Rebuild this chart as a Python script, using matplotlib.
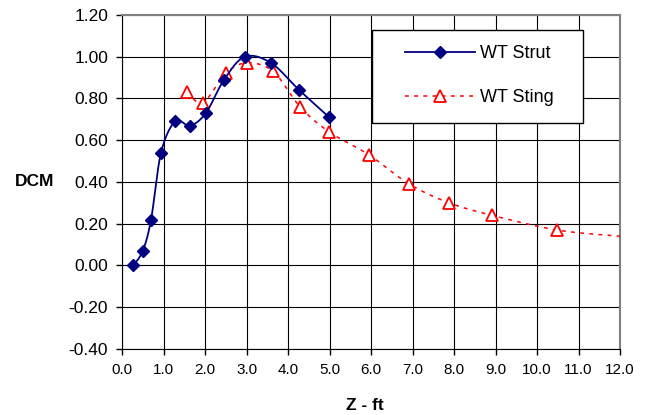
import matplotlib
matplotlib.use("Agg")
import matplotlib.pyplot as plt
from matplotlib.patches import Rectangle
import numpy as np

plt.rcParams["font.family"] = ["Liberation Sans", "DejaVu Sans"]

# WT Strut
strut_z = [0.27, 0.50, 0.70, 0.94, 1.28, 1.64, 2.02, 2.46, 2.96, 3.59, 4.27, 4.99]
strut_dcm = [0.00, 0.07, 0.22, 0.54, 0.69, 0.67, 0.73, 0.89, 1.00, 0.97, 0.84, 0.71]

# WT Sting (last point is the line end at the axis edge, no marker)
sting_z = [1.57, 1.95, 2.50, 3.00, 3.64, 4.29, 4.99, 5.95, 6.92, 7.88, 8.92, 10.48, 12.0]
sting_dcm = [0.83, 0.78, 0.92, 0.97, 0.93, 0.76, 0.64, 0.53, 0.39, 0.30, 0.24, 0.17, 0.14]


def smooth(x, y, n=20):
    # Catmull-Rom through the points, like a spreadsheet "smoothed line"
    x = np.asarray(x, float)
    y = np.asarray(y, float)
    px = np.concatenate([[x[0]], x, [x[-1]]])
    py = np.concatenate([[y[0]], y, [y[-1]]])
    xs, ys = [], []
    t = np.linspace(0, 1, n, endpoint=False)[:, None]
    for i in range(1, len(px) - 2):
        p0 = np.array([px[i - 1], py[i - 1]])
        p1 = np.array([px[i], py[i]])
        p2 = np.array([px[i + 1], py[i + 1]])
        p3 = np.array([px[i + 2], py[i + 2]])
        c = 0.5 * ((2 * p1) + (-p0 + p2) * t + (2 * p0 - 5 * p1 + 4 * p2 - p3) * t ** 2
                   + (-p0 + 3 * p1 - 3 * p2 + p3) * t ** 3)
        xs.append(c[:, 0])
        ys.append(c[:, 1])
    xs.append([x[-1]])
    ys.append([y[-1]])
    return np.concatenate(xs), np.concatenate(ys)


fig = plt.figure(figsize=(6.5, 4.15), dpi=100)
ax = fig.add_axes([0.1877, 0.159, 0.7663, 0.805])

navy = "#000080"
red = "#ff0000"
dots = (0, (2.5, 3.5))

sx, sy = smooth(sting_z, sting_dcm)
ax.plot(sx, sy, color=red, ls=dots, lw=1.1, zorder=3)
ax.plot(sting_z[:-1], sting_dcm[:-1], ls="none", marker="^", ms=8, mfc="white",
        mec=red, mew=1.3, zorder=4)

tx, ty = smooth(strut_z, strut_dcm)
ax.plot(tx, ty, color=navy, lw=1.3, zorder=5)
ax.plot(strut_z, strut_dcm, ls="none", marker="D", ms=6.5, color=navy, zorder=6)

# legend: box drawn separately so the side padding can be wider than the top
box = Rectangle((0.5723, 0.7036), 0.3246, 0.2241, transform=fig.transFigure,
                facecolor="white", edgecolor="black", lw=1.0, zorder=9)
fig.add_artist(box)
h1, = ax.plot([], [], color=navy, lw=1.3, marker="D", ms=6.5)
h2, = ax.plot([], [], color=red, ls=dots, lw=1.1, marker="^", ms=8, mfc="white",
              mec=red, mew=1.3)
leg = fig.legend([h1, h2], ["WT Strut", "WT Sting"], loc="center left",
                 bbox_to_anchor=(0.623, 0.818), bbox_transform=fig.transFigure,
                 frameon=False, fontsize=13, borderpad=0, borderaxespad=0,
                 labelspacing=1.5, handlelength=3.9, handletextpad=0.25)
leg.set_zorder(10)

ax.set_xlim(0, 12)
ax.set_ylim(-0.4, 1.2)
xt = np.arange(0, 12.01, 1.0)
yt = np.arange(-0.4, 1.21, 0.2)
ax.set_xticks(xt)
ax.set_yticks(yt)
ax.set_xticklabels([f"{v:.1f}" for v in xt], fontsize=11)
ax.set_yticklabels([f"{v:.2f}" for v in yt], fontsize=12.5)
ax.tick_params(direction="out", length=4, width=1, pad=6)
ax.grid(True, color="black", lw=0.8)
ax.set_axisbelow(True)
for s in ["top", "right"]:
    ax.spines[s].set_color("#808080")
    ax.spines[s].set_linewidth(1.5)
for s in ["left", "bottom"]:
    ax.spines[s].set_color("black")

ax.set_xlabel("Z - ft", fontsize=12.5, fontweight="bold", va="center")
ax.xaxis.set_label_coords(0.488, -0.168)
ax.set_ylabel("DCM", fontsize=12.5, fontweight="bold", rotation=0,
              ha="center", va="center")
ax.yaxis.set_label_coords(-0.175, 0.5)

fig.savefig("out.png", dpi=100)
